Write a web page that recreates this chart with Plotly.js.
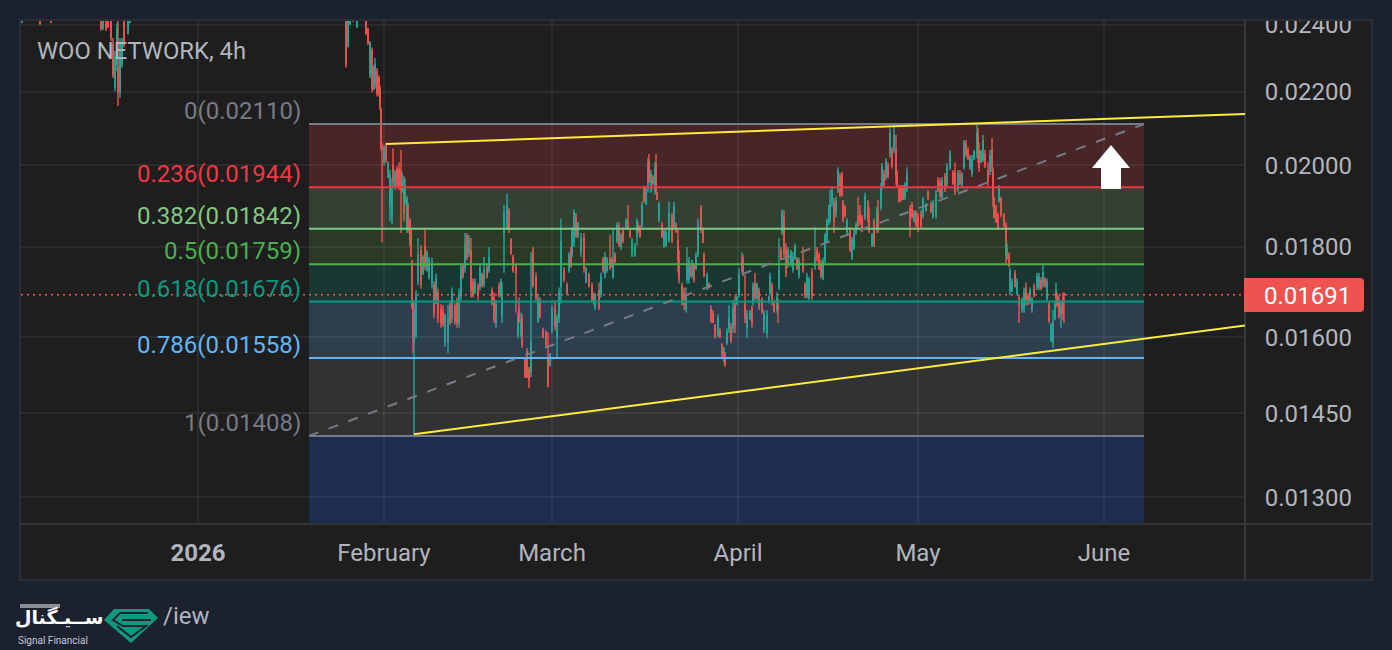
<!DOCTYPE html>
<html><head><meta charset="utf-8">
<script src="https://cdn.plot.ly/plotly-3.0.1.min.js"></script>
<style>html,body{margin:0;padding:0;background:#1c212e}#c{width:1392px;height:650px}</style>
</head><body><div id="c"></div>
<script>
// 4-hour candle numbers counted from 2026-01-01 00:00 UTC
const bars=[
-176,-158,-147,-97,-95,-92,-90,-87,-85,-83,
-81,-80,-78,-76,-74,-70,-68,148,150,152,
155,159,168,170,172,174,176,177,179,181,
182,183,184,186,188,190,192,194,195,197,
199,201,203,204,206,207,209,210,212,213,
214,215,216,218,220,223,225,227,229,231,
234,236,238,240,243,245,247,250,252,254,
257,259,261,263,265,267,269,271,273,275,
277,280,282,284,286,289,291,294,296,298,
301,303,304,306,309,311,313,315,318,320,
321,323,324,327,329,331,333,335,338,340,
342,345,348,350,352,354,357,359,361,363,
366,369,371,373,374,376,378,380,383,386,
388,391,394,396,397,401,403,405,407,409,
412,414,415,417,419,421,423,425,428,430,
432,434,437,439,440,442,444,446,448,450,
451,453,455,457,458,459,461,464,466,468,
471,474,476,478,480,481,484,486,488,489,
491,493,494,496,498,500,503,505,506,509,
511,513,515,517,520,522,524,526,527,529,
531,533,535,537,539,541,544,545,547,549,
552,554,555,557,559,561,564,566,569,571,
572,574,576,579,580,581,583,584,586,588,
590,593,595,597,599,601,605,607,609,611,
614,617,619,621,623,625,627,629,631,632,
634,636,638,640,642,644,645,647,649,652,
654,656,658,660,662,664,667,670,671,674,
676,679,680,683,684,686,688,690,692,694,
696,698,699,701,703,705,707,709,712,714,
716,718,720,723,725,728,730,733,735,738,
740,742,744,747,749,752,755,757,760,762,
764,766,768,770,772,774,776,779,780,781,
783,785,787,790,792,794,795,796,798,800,
801,803,806,808,809,811,812,814,817,819,
821,824,826,828,830,832,834,836,839,841,
843,845,847,849,851,853,855,857,858,859,
861,863,865,866];
// prices in units of 0.00001
const highs=[
2450,2450,2450,2450,2450,2450,2450,2450,2359,2320,
2405,2420,2359,2359,2430,2440,2450,2450,2450,2450,
2450,2450,2440,2391,2350,2330,2278,2299,2269,2248,
2219,2155,2060,2053,2060,2010,1988,1967,2045,1988,
1998,2008,2040,1983,1972,1967,1922,1905,1868,1844,
1769,1679,1679,1701,1820,1803,1780,1839,1792,1776,
1774,1721,1738,1705,1670,1668,1650,1668,1679,1707,
1672,1685,1705,1761,1761,1832,1832,1827,1820,1727,
1727,1716,1757,1740,1776,1757,1799,1707,1696,1679,
1718,1727,1718,1900,1928,1892,1820,1781,1760,1652,
1685,1652,1648,1560,1578,1540,1787,1799,1740,1690,
1685,1620,1615,1610,1568,1668,1679,1648,1707,1867,
1753,1718,1787,1799,1846,1889,1880,1858,1832,1832,
1753,1740,1718,1696,1694,1718,1740,1776,1787,1776,
1828,1776,1839,1787,1858,1858,1832,1846,1867,1900,
1839,1820,1808,1867,1858,1851,1908,1948,1948,2019,
2030,1988,1975,2008,2030,1932,1908,1858,1839,1839,
1908,1880,1908,1858,1839,1792,1718,1707,1707,1799,
1776,1757,1769,1762,1787,1867,1900,1846,1787,1740,
1718,1668,1658,1628,1648,1619,1588,1580,1570,1619,
1668,1630,1679,1690,1688,1750,1787,1781,1736,1658,
1658,1668,1718,1740,1718,1707,1685,1658,1658,1690,
1740,1718,1679,1696,1683,1820,1799,1889,1887,1808,
1799,1792,1787,1808,1776,1774,1799,1718,1740,1731,
1751,1846,1799,1787,1769,1774,1832,1867,1900,1937,
1943,1917,1920,1995,1980,1983,1912,1900,1867,1846,
1822,1839,1858,1920,1900,1875,1930,1912,1895,1832,
1867,1895,1912,1955,2006,1988,2019,2008,2100,2048,
2110,2080,1988,1950,1950,1950,1957,1995,1900,1908,
1887,1887,1880,1887,1920,1905,1937,1908,1912,1937,
1970,1967,1970,1980,2006,2040,1988,2008,1988,1988,
1983,2067,2067,2048,2027,2027,2040,2108,2100,2060,
2040,2080,2040,2008,2040,2072,1995,1920,1900,1880,
1950,1920,1880,1858,1808,1787,1751,1727,1746,1727,
1690,1685,1707,1718,1694,1707,1685,1716,1740,1740,
1730,1757,1730,1727,1675,1630,1658,1679,1718,1696,
1690,1675,1696,1696];
const lows=[
2405,2400,2405,2381,2384,2381,2390,2350,2240,2202,
2260,2160,2183,2270,2330,2370,2405,2270,2330,2400,
2410,2390,2368,2338,2240,2199,2205,2210,2187,2187,
2149,2040,1810,2000,2006,1967,1860,1853,1945,1937,
1943,1937,1832,1930,1860,1900,1832,1832,1800,1775,
1660,1568,1408,1598,1712,1705,1735,1746,1742,1725,
1705,1640,1670,1630,1620,1622,1580,1568,1626,1630,
1627,1620,1620,1679,1727,1740,1769,1776,1685,1685,
1692,1679,1701,1707,1707,1727,1740,1668,1630,1619,
1685,1685,1630,1740,1839,1832,1781,1740,1652,1598,
1630,1600,1578,1518,1518,1498,1520,1707,1679,1630,
1640,1598,1578,1500,1540,1608,1615,1560,1630,1672,
1718,1690,1740,1751,1776,1799,1820,1820,1776,1740,
1716,1707,1675,1668,1658,1658,1685,1740,1727,1740,
1746,1751,1727,1762,1808,1799,1792,1808,1839,1839,
1820,1776,1776,1803,1832,1820,1846,1905,1900,1930,
1955,1930,1950,1925,1930,1912,1858,1820,1797,1799,
1810,1808,1839,1832,1740,1716,1668,1658,1652,1716,
1716,1730,1727,1718,1746,1776,1832,1808,1730,1701,
1705,1630,1630,1598,1600,1598,1560,1548,1540,1584,
1609,1588,1609,1609,1668,1685,1740,1732,1630,1598,
1636,1620,1668,1679,1679,1658,1650,1609,1598,1672,
1690,1668,1652,1652,1630,1701,1769,1828,1776,1730,
1751,1753,1740,1769,1746,1727,1740,1683,1683,1679,
1680,1746,1765,1746,1727,1723,1762,1808,1851,1856,
1896,1832,1870,1930,1920,1920,1858,1870,1828,1787,
1769,1792,1828,1846,1851,1834,1863,1858,1832,1799,
1799,1832,1832,1887,1937,1945,1962,1967,2020,1992,
2032,1950,1945,1905,1908,1912,1912,1932,1822,1867,
1858,1846,1834,1844,1867,1884,1912,1880,1867,1867,
1932,1917,1912,1932,1945,1988,1950,1925,1932,1950,
1943,1988,2022,2014,1988,1970,2014,2019,2006,1983,
2006,2008,1993,1943,1975,1983,1895,1867,1856,1839,
1905,1870,1846,1762,1769,1753,1690,1696,1707,1690,
1630,1652,1652,1668,1668,1672,1652,1685,1701,1701,
1701,1707,1707,1675,1630,1590,1578,1636,1679,1664,
1640,1620,1636,1630];
const opens=[
2410,2440,2440,2430,2390,2430,2430,2430,2340,2215,
2280,2270,2200,2280,2410,2375,2408,2430,2335,2402,
2440,2395,2430,2385,2250,2320,2210,2220,2260,2240,
2210,2150,2055,2010,2050,1970,1900,1870,2000,1945,
1990,1990,1985,1935,1960,1905,1845,1900,1860,1835,
1765,1675,1590,1605,1720,1790,1740,1800,1748,1730,
1720,1712,1680,1695,1660,1655,1590,1590,1670,1640,
1665,1675,1630,1690,1755,1750,1825,1785,1790,1720,
1698,1710,1710,1735,1715,1750,1745,1700,1685,1630,
1710,1690,1645,1832,1845,1885,1815,1775,1755,1605,
1660,1605,1640,1555,1570,1535,1530,1790,1730,1635,
1680,1615,1610,1560,1545,1615,1660,1600,1640,1710,
1745,1712,1745,1790,1780,1810,1870,1825,1785,1820,
1720,1735,1710,1690,1665,1700,1692,1770,1735,1745,
1770,1770,1732,1780,1815,1845,1800,1835,1842,1860,
1835,1782,1780,1825,1850,1840,1850,1940,1905,1950,
2010,1935,1970,1935,2000,1930,1865,1850,1802,1805,
1815,1870,1845,1850,1815,1770,1710,1695,1660,1725,
1725,1752,1735,1755,1750,1785,1890,1840,1780,1708,
1715,1660,1650,1625,1605,1615,1585,1552,1565,1590,
1618,1620,1620,1670,1672,1690,1745,1770,1670,1620,
1640,1660,1675,1715,1685,1700,1680,1615,1610,1676,
1695,1710,1672,1660,1670,1708,1790,1835,1870,1790,
1760,1760,1748,1775,1770,1735,1760,1712,1688,1685,
1740,1755,1790,1780,1760,1730,1770,1815,1858,1865,
1905,1905,1878,1935,1970,1975,1905,1895,1835,1835,
1775,1800,1832,1870,1880,1870,1870,1905,1880,1803,
1860,1840,1880,1895,1945,1975,1970,2000,2030,2040,
2040,2040,1980,1945,1940,1940,1918,1940,1890,1900,
1862,1880,1870,1875,1875,1888,1930,1900,1872,1875,
1960,1955,1918,1970,1950,1995,1980,1980,1940,1975,
1950,1995,2055,2040,1995,1980,2018,2030,2080,2040,
2010,2015,2030,1985,1985,2040,1985,1915,1895,1875,
1910,1915,1875,1850,1775,1780,1700,1700,1738,1695,
1685,1660,1665,1705,1688,1678,1660,1708,1708,1708,
1722,1715,1725,1682,1670,1595,1590,1640,1685,1690,
1680,1650,1685,1694];
const closes=[
2440,2402,2410,2390,2430,2390,2395,2360,2250,2300,
2390,2200,2340,2340,2340,2430,2440,2280,2430,2440,
2412,2440,2375,2345,2345,2210,2270,2280,2195,2195,
2155,2045,2040,2045,2015,2005,1975,1945,1960,1980,
1950,1945,1940,1975,1880,1950,1915,1840,1805,1780,
1665,1600,1660,1690,1780,1715,1775,1755,1785,1770,
1765,1650,1730,1640,1630,1628,1645,1640,1632,1695,
1635,1630,1690,1750,1733,1805,1775,1815,1700,1690,
1720,1690,1750,1712,1745,1732,1775,1672,1640,1670,
1690,1720,1690,1880,1900,1840,1785,1745,1740,1645,
1632,1630,1585,1522,1520,1515,1590,1712,1685,1680,
1645,1600,1585,1502,1565,1660,1625,1640,1695,1810,
1725,1695,1780,1755,1840,1880,1825,1855,1820,1750,
1748,1712,1680,1672,1690,1665,1730,1745,1775,1770,
1752,1755,1760,1765,1850,1805,1825,1815,1862,1845,
1825,1815,1800,1860,1838,1825,1900,1910,1940,2005,
1960,1980,1955,1990,1935,1915,1900,1825,1835,1832,
1880,1815,1895,1836,1770,1725,1680,1670,1690,1760,
1765,1735,1760,1725,1780,1855,1840,1812,1735,1735,
1708,1635,1632,1602,1640,1602,1565,1575,1545,1612,
1640,1595,1660,1625,1685,1735,1770,1738,1640,1650,
1655,1630,1710,1685,1712,1665,1655,1650,1645,1686,
1730,1675,1656,1685,1660,1745,1773,1880,1785,1740,
1790,1785,1775,1800,1750,1765,1745,1688,1730,1725,
1690,1775,1770,1750,1735,1765,1825,1860,1895,1900,
1935,1860,1910,1985,1925,1925,1865,1875,1860,1795,
1815,1830,1852,1850,1860,1838,1920,1865,1838,1826,
1805,1885,1840,1945,1995,1950,2010,1972,2085,1998,
2080,1975,1950,1910,1912,1915,1950,1975,1850,1872,
1882,1850,1840,1850,1912,1900,1915,1885,1905,1925,
1938,1925,1960,1938,1995,2030,1955,1935,1980,1955,
1975,2060,2028,2018,2020,2015,2035,2085,2020,1995,
2035,2065,2000,1960,2025,1995,1915,1872,1860,1845,
1945,1875,1850,1780,1795,1757,1745,1720,1710,1720,
1670,1680,1695,1675,1672,1700,1680,1690,1732,1730,
1706,1740,1712,1720,1636,1625,1630,1670,1700,1670,
1645,1665,1650,1691];

const priceTicks=[0.024,0.022,0.020,0.018,0.016,0.0145,0.013];
const priceTickLabels=['0.02400','0.02200','0.02000','0.01800','0.01600','0.01450','0.01300'];
const dateTicks=['2026-01-01','2026-02-01','2026-03-01','2026-04-01','2026-05-01','2026-06-01'];
const dateTickLabels=['<b>2026</b>','February','March','April','May','June'];

const fibRatios=['0','0.236','0.382','0.5','0.618','0.786','1'];
const fibPrices=[0.02110,0.01944,0.01842,0.01759,0.01676,0.01558,0.01408];
const fibLineColors=['#787b86','#f23645','#81c784','#4caf50','#089981','#64b5f6','#787b86'];
const fibFillColors=['#482527','#354034','#2b3a27','#1b3732','#2d3f4e','#323232'];
const fibBelowColor='#1d2c4f';
const fibBars=[111,946];
const lastPrice=0.01691;
const upperTrend={bars:[188,1047],prices:[0.02056,0.02138]};
const lowerTrend={bars:[216,1047],prices:[0.01411,0.01625]};

const T0=Date.UTC(2026,0,1), H4=4*3600e3;
const toDate=n=>new Date(T0+n*H4).toISOString();
const W=1224,H=504,ML=21,MT=20;
const px=x=>(x-ML)/W, py=y=>(MT+H-y)/H;
const yBottom=0.01256,yTop=0.02415;
const poly=(pts,close=true)=>pts.map((p,i)=>(i?'L':'M')+px(p[0]).toFixed(5)+' '+py(p[1]).toFixed(5)).join(' ')+(close?' Z':'');

const shapes=[];
// frame
shapes.push({type:'rect',xref:'paper',yref:'paper',x0:px(20),x1:px(1372),y0:py(580),y1:py(20),
  fillcolor:'#1e1e1e',line:{color:'#2a2e39',width:2},layer:'below'});
// fib bands
fibFillColors.forEach((c,i)=>shapes.push({type:'rect',xref:'x',yref:'y',x0:toDate(fibBars[0]),x1:toDate(fibBars[1]),
  y0:fibPrices[i],y1:fibPrices[i+1],fillcolor:c,line:{width:0},layer:'below'}));
shapes.push({type:'rect',xref:'x',yref:'y',x0:toDate(fibBars[0]),x1:toDate(fibBars[1]),
  y0:fibPrices[6],y1:yBottom,fillcolor:fibBelowColor,line:{width:0},layer:'below'});
// separators
shapes.push({type:'line',xref:'paper',yref:'paper',x0:px(21),x1:px(1372),y0:py(524),y1:py(524),line:{color:'#333438',width:2}});
shapes.push({type:'line',xref:'paper',yref:'paper',x0:px(1245),x1:px(1245),y0:py(580),y1:py(20),line:{color:'#38393c',width:2}});
// fib lines
fibPrices.forEach((p,i)=>shapes.push({type:'line',xref:'x',yref:'y',x0:toDate(fibBars[0]),x1:toDate(fibBars[1]),y0:p,y1:p,
  line:{color:fibLineColors[i],width:2}}));
// diagonal
shapes.push({type:'line',xref:'x',yref:'y',x0:toDate(fibBars[0]),x1:toDate(fibBars[1]),y0:fibPrices[6],y1:fibPrices[0],
  line:{color:'#787b86',width:2,dash:'10px,11px'}});
// price line
shapes.push({type:'line',xref:'paper',yref:'y',x0:0,x1:1,y0:lastPrice,y1:lastPrice,line:{color:'#f7525f',width:1.5,dash:'2px,4px'}});
// trend lines
[upperTrend,lowerTrend].forEach(t=>shapes.push({type:'line',xref:'x',yref:'y',x0:toDate(t.bars[0]),x1:toDate(t.bars[1]),
  y0:t.prices[0],y1:t.prices[1],line:{color:'#ffeb3b',width:2}}));
// arrow
shapes.push({type:'path',xref:'paper',yref:'paper',path:poly([[1111,145],[1130,168],[1121,168],[1121,189],[1101,189],[1101,168],[1092,168]]),
  fillcolor:'#ffffff',line:{width:0}});
// price tag
shapes.push({type:'path',xref:'paper',yref:'paper',
  path:`M${px(1244)} ${py(278)} L${px(1360)} ${py(278)} Q${px(1364)} ${py(278)} ${px(1364)} ${py(282)} L${px(1364)} ${py(308)} Q${px(1364)} ${py(312)} ${px(1360)} ${py(312)} L${px(1244)} ${py(312)} Z`,
  fillcolor:'#ef5350',line:{width:0}});
// mask above the frame (clips the top tick label)
shapes.push({type:'rect',xref:'paper',yref:'paper',x0:px(0),x1:px(1392),y0:py(19),y1:py(0),fillcolor:'#1c212e',line:{width:0}});
shapes.push({type:'line',xref:'paper',yref:'paper',x0:px(20),x1:px(1372),y0:py(20),y1:py(20),line:{color:'#2a2e39',width:2}});
// watermark remnant + logo
shapes.push({type:'rect',xref:'paper',yref:'paper',x0:px(20),x1:px(60),y0:py(608),y1:py(604),fillcolor:'#8b8e97',line:{width:0}});
shapes.push({type:'path',xref:'paper',yref:'paper',path:poly([[104,620],[114,609],[149,609],[158,618],[131,643]]),fillcolor:'#0f9a80',line:{width:0}});
shapes.push({type:'path',xref:'paper',yref:'paper',path:poly([[148,613],[120,613],[113,620],[123,626],[146,626],[131,637],[117,626]],false),
  line:{color:'#1c212e',width:2}});
shapes.push({type:'path',xref:'paper',yref:'paper',path:poly([[122,620],[151,620]],false),line:{color:'#1c212e',width:2}});

const FONT='Roboto, sans-serif';
const annotations=[];
fibRatios.forEach((r,i)=>annotations.push({xref:'x',yref:'y',x:toDate(fibBars[0]),y:Math.log10(fibPrices[i]),
  text:`${r}(${fibPrices[i].toFixed(5)})`,showarrow:false,xanchor:'right',yanchor:'middle',xshift:-6,yshift:13,
  font:{family:FONT,size:24,color:fibLineColors[i]}}));
annotations.push({xref:'paper',yref:'paper',x:px(35),y:py(51),text:'WOO NETWORK, 4h',showarrow:false,xanchor:'left',yanchor:'middle',
  font:{family:FONT,size:23.8,color:'#b2b5be'}});
annotations.push({xref:'paper',yref:'paper',x:px(1307),y:py(295.5),text:'0.01691',showarrow:false,xanchor:'center',yanchor:'middle',
  font:{family:FONT,size:24,color:'#ffffff'}});
annotations.push({xref:'paper',yref:'paper',x:px(212),y:py(616),text:'/iew',showarrow:false,xanchor:'right',yanchor:'middle',
  font:{family:FONT,size:24,color:'#b2b5be'}});
annotations.push({xref:'paper',yref:'paper',x:px(59),y:py(617),text:'ســیـگنال',showarrow:false,xanchor:'center',yanchor:'middle',
  font:{family:'"DejaVu Sans", sans-serif',size:19,color:'#ffffff',weight:600}});
annotations.push({xref:'paper',yref:'paper',x:px(16),y:py(640),text:'Signal Financial',showarrow:false,xanchor:'left',yanchor:'middle',
  font:{family:FONT,size:10,color:'#c8cad0'}});

const u=v=>v/100000;
const trace={type:'candlestick',x:bars.map(n=>T0+n*H4),open:opens.map(u),high:highs.map(u),low:lows.map(u),close:closes.map(u),
  increasing:{line:{color:'#26a69a',width:1.4},fillcolor:'#26a69a'},
  decreasing:{line:{color:'#ef5350',width:1.4},fillcolor:'#ef5350'},
  whiskerwidth:0,hoverinfo:'skip',showlegend:false};

const grid='rgba(255,255,255,0.06)';
const layout={
  width:1392,height:650,
  paper_bgcolor:'#1c212e',plot_bgcolor:'rgba(0,0,0,0)',
  margin:{l:ML,r:1392-ML-W,t:MT,b:650-MT-H,pad:0},
  showlegend:false,
  font:{family:FONT,size:24,color:'#b2b5be'},
  xaxis:{type:'date',range:[toDate(-177),toDate(1047)],tickmode:'array',tickvals:dateTicks,ticktext:dateTickLabels,
    tickangle:0,showgrid:true,gridcolor:grid,gridwidth:2,zeroline:false,showline:false,
    ticks:'outside',ticklen:7,tickcolor:'rgba(0,0,0,0)',tickfont:{family:FONT,size:24,color:'#b2b5be'},
    rangeslider:{visible:false},fixedrange:true},
  yaxis:{type:'log',side:'right',range:[Math.log10(yBottom),Math.log10(yTop)],tickmode:'array',tickvals:priceTicks,ticktext:priceTickLabels,
    showgrid:true,gridcolor:grid,gridwidth:2,zeroline:false,showline:false,
    ticks:'outside',ticklen:14,tickcolor:'rgba(0,0,0,0)',tickfont:{family:FONT,size:24,color:'#b2b5be'},fixedrange:true},
  shapes,annotations
};
Plotly.newPlot('c',[trace],layout,{staticPlot:true,displayModeBar:false});
</script></body></html>
